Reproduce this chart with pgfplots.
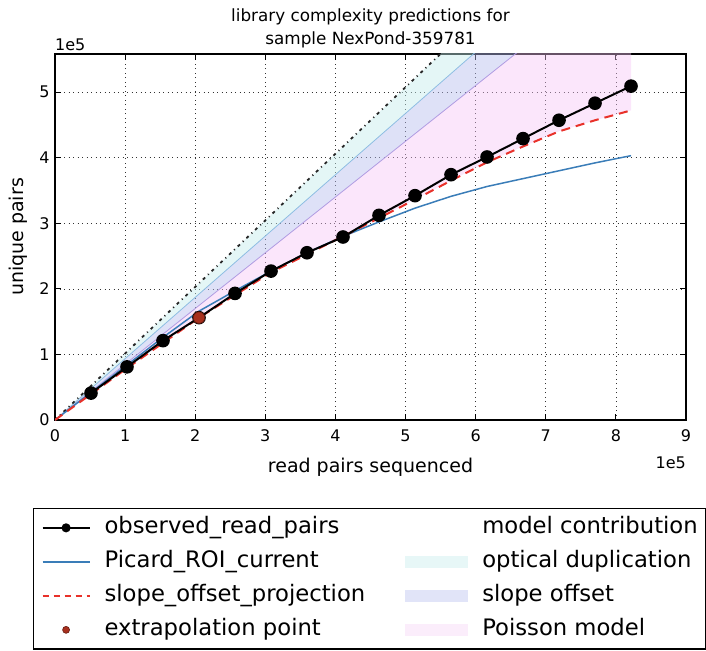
\documentclass[border=0pt]{standalone}
\usepackage{fontspec}
\setmainfont{DejaVu Sans}
\usepackage{pgfplots}
\pgfplotsset{compat=1.18}
\definecolor{picblue}{HTML}{3A7DB8}
\definecolor{slred}{HTML}{E8312A}
\definecolor{extrared}{HTML}{A8301E}
\definecolor{optfill}{HTML}{C4ECEC}
\definecolor{slofill}{HTML}{B6BCEE}
\definecolor{poifill}{HTML}{F5C4F5}
\definecolor{optline}{HTML}{8EBEE2}
\definecolor{sloline}{HTML}{B09CE2}
\pgfplotsset{
  mylineleg/.style={legend image code/.code={\draw[mark repeat=2,mark phase=2,##1] plot coordinates {(0bp,0bp) (23.5bp,0bp) (47bp,0bp)};}},
  mypatchleg/.style={legend image code/.code={\fill[##1] (0bp,-6bp) rectangle (63bp,6bp);}},
}

\begin{document}
\begin{tikzpicture}
\useasboundingbox (-55bp,-231bp) rectangle (651bp,420bp);
\begin{axis}[
  scale only axis, width=631bp, height=366bp,
  xmin=0, xmax=9, ymin=0, ymax=5.58,
  xtick={0,1,...,9}, ytick={0,1,...,5},
  clip mode=individual,
  tick pos=both, tick align=inside,
  major tick length=6bp,
  tick style={black, line width=0.8bp},
  axis line style={black, line width=1.2bp},
  grid=major,
  major grid style={black!80, line width=0.6bp, dash pattern=on 1bp off 3.5bp},
  /pgf/number format/assume math mode=true,
  ticklabel style={font=\fontsize{16bp}{19bp}\selectfont},
  xticklabel style={yshift=-6bp},
  yticklabel style={xshift=-2bp},
  xlabel={read pairs sequenced},
  ylabel={unique pairs},
  label style={font=\fontsize{19bp}{23bp}\selectfont},
  xlabel style={at={(axis description cs:0.5,-0.128)}, anchor=center},
  ylabel style={at={(axis description cs:-0.0586,0.5)}, anchor=center},
  title={library complexity predictions for\\sample NexPond-359781},
  title style={at={(axis description cs:0.5,1)}, anchor=south, yshift=-3bp, align=center, font=\fontsize{16.8bp}{23bp}\selectfont},
  legend columns=2,
  legend cell align=left,
  legend style={at={(axis description cs:-0.0349,-0.2404)}, anchor=north west,
    draw=black, line width=1.2bp, inner xsep=8bp, inner ysep=8.5bp,
    font=\fontsize{22.7bp}{26bp}\selectfont,
    nodes={inner sep=0pt, text height=16.5bp, text depth=5bp},
    row sep=12.5bp,
    /tikz/every odd column/.append style={column sep=14bp},
    /tikz/every even column/.append style={column sep=40bp}},
]
% model contribution bands
\addplot[forget plot, draw=none, fill=optfill, fill opacity=0.45] coordinates {(0,0) (5.6,5.684) (6.2,5.797)};
\addplot[forget plot, draw=none, fill=slofill, fill opacity=0.45] coordinates {(0,0) (6.2,5.797) (6.8,5.78)};
\addplot[forget plot, draw=none, fill=poifill, fill opacity=0.42] coordinates {
(0,0) (6.8,5.78) (8.216,5.78) (8.216,4.72) (7.7025,4.57) (7.189,4.40) (6.6755,4.17) (6.162,3.93)
(5.6485,3.65) (5.135,3.36) (4.108,2.80) (3.081,2.25) (2.054,1.56) (1.027,0.79)};
\addplot[forget plot, optline, line width=0.8bp] coordinates {(0,0) (6.2,5.797)};
\addplot[forget plot, sloline, line width=0.8bp] coordinates {(0,0) (6.8,5.78)};
\addplot[forget plot, black!85, line width=1.8bp, dash pattern=on 3bp off 4bp on 1bp off 4bp] coordinates {(0,0) (5.6,5.684)};
% Picard
\addplot[forget plot, picblue, line width=1.5bp] coordinates {
(0,0) (0.5135,0.42) (1.027,0.84) (1.5405,1.26) (2.054,1.66) (2.5675,1.97) (3.081,2.27) (3.5945,2.55)
(4.108,2.80) (4.6215,3.02) (5.135,3.23) (5.6485,3.41) (6.162,3.56) (6.6755,3.68) (7.189,3.80) (7.7025,3.92) (8.216,4.03)};
% slope offset projection
\addplot[forget plot, slred, line width=2bp, dash pattern=on 9bp off 6bp] coordinates {
(0,0) (1.027,0.79) (2.054,1.56) (3.081,2.25) (4.108,2.80) (5.135,3.36) (5.6485,3.65) (6.162,3.93)
(6.6755,4.17) (7.189,4.40) (7.7025,4.57) (8.216,4.72)};
% observed
\addplot[forget plot, black, line width=2bp, mark=*, mark size=5.8bp, mark options={fill=black}] coordinates {
(0.5135,0.41) (1.027,0.81) (1.5405,1.21) (2.054,1.56) (2.5675,1.93) (3.081,2.27) (3.5945,2.55) (4.108,2.79)
(4.6215,3.12) (5.135,3.42) (5.6485,3.74) (6.162,4.01) (6.6755,4.29) (7.189,4.57) (7.7025,4.83) (8.216,5.09)};
% extrapolation point
\addplot[forget plot, only marks, mark=*, mark size=5.8bp, mark options={fill=extrared, draw=extrared!60!black, line width=0.8bp}] coordinates {(2.054,1.56)};

% legend
\addlegendimage{mylineleg, black, line width=2bp, mark=*, mark size=3.5bp, mark options={fill=black}}
\addlegendentry{observed\_read\_pairs}
\addlegendimage{empty legend}
\addlegendentry{model contribution}
\addlegendimage{mylineleg, picblue, line width=1.4bp}
\addlegendentry{Picard\_ROI\_current}
\addlegendimage{mypatchleg, fill=optfill, draw=none, fill opacity=0.4}
\addlegendentry{optical duplication}
\addlegendimage{mylineleg, slred, line width=1.4bp, dash pattern=on 6bp off 5bp}
\addlegendentry{slope\_offset\_projection}
\addlegendimage{mypatchleg, fill=slofill, draw=none, fill opacity=0.4}
\addlegendentry{slope offset}
\addlegendimage{mylineleg, only marks, mark=*, mark size=3.5bp, mark options={fill=extrared, draw=extrared!60!black, line width=0.6bp}}
\addlegendentry{extrapolation point}
\addlegendimage{mypatchleg, fill=poifill, draw=none, fill opacity=0.3}
\addlegendentry{Poisson model}

\node[anchor=south west, inner sep=0pt, font=\fontsize{16bp}{19bp}\selectfont] at (rel axis cs:0,1) [yshift=3bp] {1e5};
\node[anchor=north east, inner sep=0pt, font=\fontsize{16bp}{19bp}\selectfont] at (rel axis cs:1,0) [yshift=-37bp] {1e5};
\end{axis}
\end{tikzpicture}
\end{document}
